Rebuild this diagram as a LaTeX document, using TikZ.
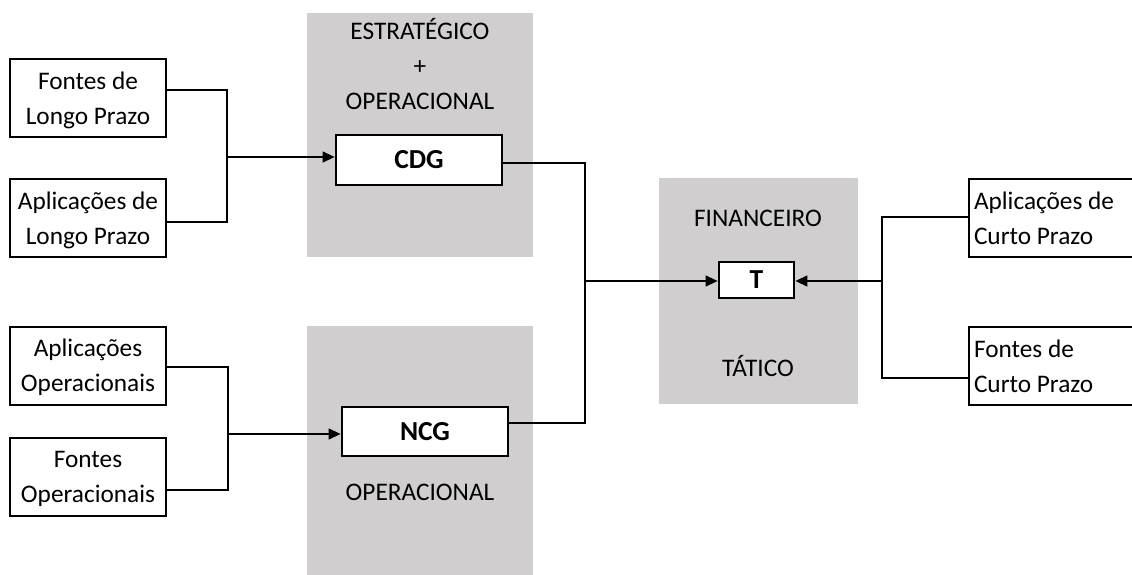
\documentclass[tikz,border=0pt]{standalone}
\usepackage{fontspec}
\setmainfont{Carlito}
\usetikzlibrary{arrows.meta,calc}
\definecolor{zone}{RGB}{208,206,206}
\begin{document}
\begin{tikzpicture}[x=1pt,y=-1pt,
  every node/.style={font=\fontsize{25.3}{35}\selectfont},
  srcbox/.style={draw=black,line width=2pt,fill=white,minimum width=156pt,minimum height=78pt,align=center,inner sep=2pt,text depth=0pt},
  rbox/.style={draw=black,line width=2pt,fill=white,anchor=west,text width=160pt,minimum height=78pt,align=flush left,inner sep=5pt},
  keybox/.style={draw=black,line width=2.8pt,fill=white,align=center,inner sep=0pt,font=\fontsize{27.5}{30}\selectfont\bfseries},
  zonebg/.style={fill=zone,draw=none},
  zonelabel/.style={align=center,inner sep=0pt},
  link/.style={draw=black,line width=1.3pt},
  arrowlink/.style={link,-{Triangle[length=12pt,width=11pt]}}
]
\useasboundingbox (0,0) rectangle (1132,575);
% grey zones
\fill[zonebg] (307,13) rectangle (533,257);
\fill[zonebg] (307,326) rectangle (533,575);
\fill[zonebg] (659,178) rectangle (858,404);
% zone labels
\node[zonelabel] (zl1) at (420,64) {ESTRATÉGICO\\+\\OPERACIONAL};
\node[zonelabel] (zl2) at (420,492) {OPERACIONAL};
\node[zonelabel] (zl3) at (758,218) {FINANCEIRO};
\node[zonelabel] (zl4) at (758,366) {TÁTICO};
% source boxes
\node[srcbox] (b1) at (88,98) {Fontes de\\Longo Prazo};
\node[srcbox] (b2) at (88,218) {Aplicações de\\Longo Prazo};
\node[srcbox] (b3) at (88,365.5) {Aplicações\\Operacionais};
\node[srcbox] (b4) at (88,476.5) {Fontes\\Operacionais};
\node[rbox] (r1) at (968,218) {Aplicações de\\Curto Prazo};
\node[rbox] (r2) at (968,366) {Fontes de\\Curto Prazo};
% key boxes
\node[keybox,minimum width=166pt,minimum height=50pt] (cdg) at (419,160) {CDG};
\node[keybox,minimum width=166pt,minimum height=49pt] (ncg) at (425,431.5) {NCG};
\node[keybox,minimum width=75pt,minimum height=36pt] (t) at (756.5,280) {T};
% junctions
\coordinate (j1) at (227,157);
\coordinate (j2) at (228,434);
\coordinate (j3) at (585,281);
\coordinate (j4) at (882,281);
% connectors
\draw[link] ([yshift=8pt]b1.east) -| (j1);
\draw[link] ([yshift=-4pt]b2.east) -| (j1);
\draw[arrowlink] (j1) -- (j1 -| cdg.west);
\draw[link] ([yshift=-1.5pt]b3.east) -| (j2);
\draw[link] ([yshift=-13.5pt]b4.east) -| (j2);
\draw[arrowlink] (j2) -- (j2 -| ncg.west);
\draw[link] ([yshift=-3pt]cdg.east) -| (j3);
\draw[link] ([yshift=8.5pt]ncg.east) -| (j3);
\draw[arrowlink] (j3) -- (j3 -| t.west);
\draw[link] ([yshift=1pt]r1.west) -| (j4);
\draw[link] ([yshift=-12pt]r2.west) -| (j4);
\draw[arrowlink] (j4) -- (j4 -| t.east);
\end{tikzpicture}
\end{document}
